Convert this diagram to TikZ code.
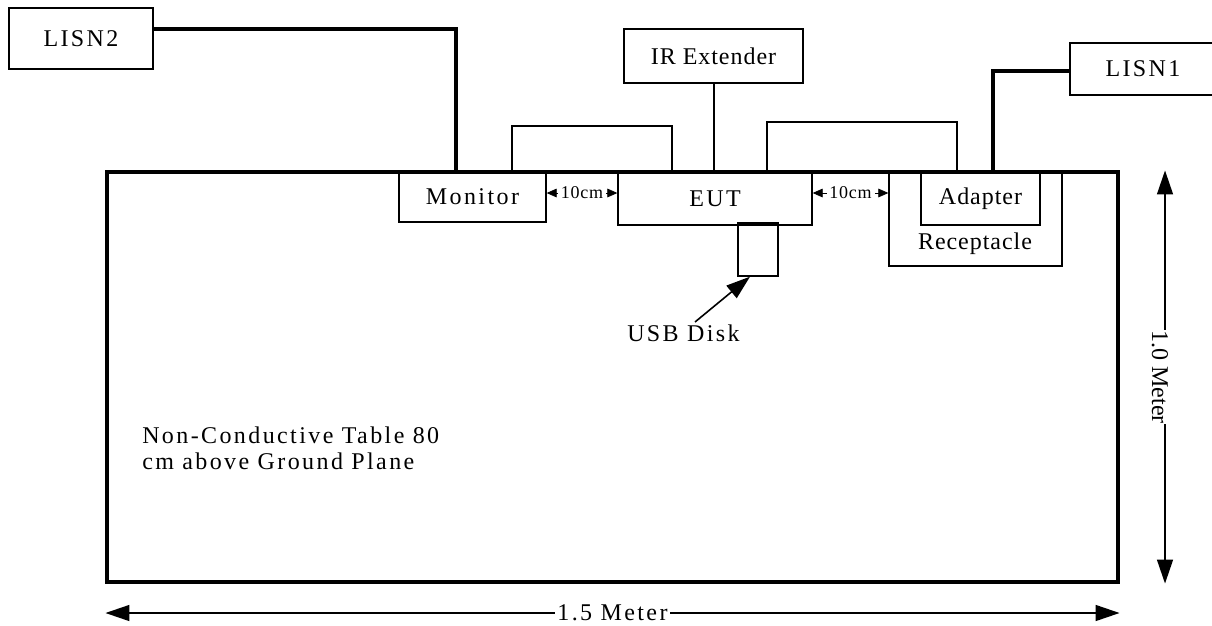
\documentclass[tikz,border=0pt]{standalone}
\usepackage{fontspec}
\setmainfont{Liberation Serif}[LetterSpace=10]
\newfontfamily\tightf{Liberation Serif}[LetterSpace=4]
\newfontfamily\plainf{Liberation Serif}
\usetikzlibrary{arrows.meta}
\begin{document}
\begin{tikzpicture}[x=0.75pt,y=-0.75pt,
  box/.style={draw,line width=1pt,inner sep=0pt},
  sz/.style n args={2}{minimum width=#1*0.75pt,minimum height=#2*0.75pt},
  lbl/.style={font=\fontsize{18}{19.5}\selectfont,inner sep=0pt},
  tlbl/.style={font=\tightf\fontsize{18}{19.5}\selectfont,inner sep=0pt},
  power/.style={line width=2.3pt},
  cable/.style={line width=0.8pt},
  dimline/.style={line width=1.1pt,{Triangle[length=18pt,width=12pt]}-{Triangle[length=18pt,width=12pt]}},
  gapdim/.style={line width=0.6pt,{Triangle[length=7.5pt,width=6.5pt]}-{Triangle[length=7.5pt,width=6.5pt]}},
  pointer/.style={line width=1.2pt,-{Triangle[length=18pt,width=12pt]}},
  gaplbl/.style={midway,fill=white,font=\tightf\fontsize{13.5}{16}\selectfont,inner ysep=0pt,inner xsep=2.2pt},
]
\useasboundingbox (0,0) rectangle (1212,625);

% table
\node[box,line width=2.3pt,sz={1011}{410}] (table) at (612.5,377) {};

% boxes
\node[box,lbl,sz={144}{61}] (lisn2) at (81,38.5) {LISN2};
\node[box,lbl,sz={146}{52}] (lisn1) at (1143,69) {LISN1};
\node[box,tlbl,sz={179}{54}] (ir) at (713.5,56) {IR Extender};
\node[box,lbl,sz={147}{50}] (monitor) at (472.5,197) {Monitor};
\node[box,lbl,sz={194}{53}] (eut) at (715,198.5) {EUT};
\node[box,sz={40}{53}] (usb) at (758,249.5) {};
\node[box,sz={173}{94}] (recept) at (975.5,219) {};
\node[tlbl,anchor=base] (recepttext) at (975,249) {Receptacle};
\node[box,tlbl,sz={119}{53}] (adapter) at (980.5,198.5) {Adapter};

% power lines
\draw[power] (lisn2.east |- 0,29) -| (456,0 |- monitor.north);
\draw[power] (lisn1.west |- 0,71) -| (993,0 |- adapter.north);
\draw[line width=1.5pt] (ir.south) -- (ir.south |- eut.north);

% cables
\draw[cable] (512,0 |- monitor.north) -- (512,126) -| (672,0 |- eut.north);
\draw[cable] (767,0 |- eut.north) -- (767,122) -| (957,0 |- recept.north);

% 10cm gaps
\draw[gapdim] (monitor.east |- 0,193) -- (eut.west |- 0,193) node[gaplbl] (gapl) {10cm};
\draw[gapdim] (eut.east |- 0,193) -- (recept.west |- 0,193) node[gaplbl] (gapr) {10cm};

% USB disk
\node[lbl,anchor=base west] (usbtext) at (627,341) {USB Disk};
\coordinate (usbtail) at (695,322);
\draw[pointer] (usbtail) -- (750,0 |- usb.south);

% table label
\node[lbl,align=left,anchor=north west] (tabletext) at (142,427) {Non-Conductive Table 80\\cm above Ground Plane};

% dimensions
\draw[dimline] (1165,0 |- table.north) -- (1165,0 |- table.south);
\node[fill=white,rotate=-90,font=\plainf\fontsize{18}{19.5}\selectfont,inner sep=0.5pt] (vdim) at (1160,377) {1.0 Meter};
\draw[dimline] (table.south west |- 0,613) -- (table.south east |- 0,613)
  node[midway,fill=white,lbl,inner xsep=1.5pt,inner ysep=0.5pt] (hdim) {1.5 Meter};
\end{tikzpicture}
\end{document}
